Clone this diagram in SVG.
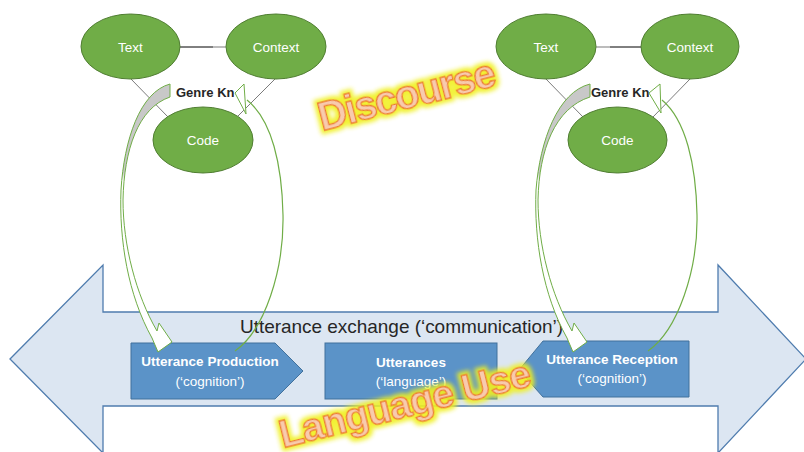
<svg xmlns="http://www.w3.org/2000/svg" width="804" height="452" viewBox="0 0 804 452">
<defs>
<style>
.ell{fill:#70ad47;stroke:#507e32;stroke-width:1}
.et{font-family:"Liberation Sans",Arial,sans-serif;font-size:13.5px;fill:#ffffff;text-anchor:middle}
.gk{font-family:"Liberation Sans",Arial,sans-serif;font-size:13px;font-weight:bold;fill:#262626}
.ln{stroke:#595959;stroke-width:0.8;fill:none}
.box{fill:#5b93c8;stroke:#41719c;stroke-width:1}
.bt{font-family:"Liberation Sans",Arial,sans-serif;font-size:13.5px;fill:#ffffff;text-anchor:middle}
.band{stroke:#70ad47;stroke-width:1;fill:url(#bandfill)}
.ret{stroke:#70ad47;stroke-width:1.2;fill:none}
.head{stroke:#70ad47;stroke-width:1;fill:#ffffff}
.wa{font-family:"Liberation Sans",Arial,sans-serif;font-weight:bold;fill:#f8cbad;stroke:#ed7d31;stroke-width:1.4;filter:url(#glow)}
</style>
<linearGradient id="bandfill" gradientUnits="userSpaceOnUse" x1="0" y1="84" x2="0" y2="352">
<stop offset="0" stop-color="#c8c8c8"/>
<stop offset="0.33" stop-color="#c8c8c8"/>
<stop offset="0.36" stop-color="#ffffff"/>
<stop offset="1" stop-color="#ffffff"/>
</linearGradient>
<filter id="glow" x="-20%" y="-60%" width="140%" height="220%">
<feMorphology in="SourceAlpha" operator="dilate" radius="3" result="d"/>
<feGaussianBlur in="d" stdDeviation="2" result="b"/>
<feFlood flood-color="#f0f020" flood-opacity="0.9"/>
<feComposite in2="b" operator="in" result="g"/>
<feMerge><feMergeNode in="g"/><feMergeNode in="SourceGraphic"/></feMerge>
</filter>
</defs>

<g id="exchange-arrow">
<path d="M10,359 L103,265 L103,312 L718,312 L718,265 L806,359 L718,453 L718,406 L103,406 L103,453 Z" fill="#dce6f2" stroke="#4f7cae" stroke-width="1.3"/>
<text x="240" y="333" font-family="Liberation Sans, Arial, sans-serif" font-size="19" fill="#262626" textLength="323">Utterance exchange (‘communication’)</text>
</g>

<g id="connectors">
<line class="ln" x1="131" y1="79" x2="168" y2="117"/>
<line class="ln" x1="275" y1="79" x2="238" y2="116"/>
<line x1="180" y1="47" x2="213" y2="47" stroke="#000" stroke-width="1"/>
<line x1="213" y1="47" x2="226" y2="47" stroke="#a6a6a6" stroke-width="1.5"/>
<line class="ln" x1="546" y1="79" x2="583" y2="117"/>
<line class="ln" x1="690" y1="79" x2="653" y2="117"/>
<line x1="596" y1="47" x2="610" y2="47" stroke="#a6a6a6" stroke-width="1.5"/>
<line x1="610" y1="47" x2="641" y2="47" stroke="#000" stroke-width="1"/>
</g>

<g id="left-text"><ellipse class="ell" cx="130.5" cy="46.5" rx="49.5" ry="32.5"/><text class="et" x="130.5" y="51.5">Text</text></g>
<g id="left-context"><ellipse class="ell" cx="276" cy="46.5" rx="50" ry="32.5"/><text class="et" x="276" y="51.5">Context</text></g>
<g id="left-code"><ellipse class="ell" cx="203" cy="140" rx="50" ry="33"/><text class="et" x="203" y="144.5">Code</text></g>
<g id="right-text"><ellipse class="ell" cx="546" cy="46.5" rx="50" ry="32.5"/><text class="et" x="546" y="51.5">Text</text></g>
<g id="right-context"><ellipse class="ell" cx="690" cy="46.5" rx="49" ry="32.5"/><text class="et" x="690" y="51.5">Context</text></g>
<g id="right-code"><ellipse class="ell" cx="617.5" cy="140" rx="49.5" ry="33"/><text class="et" x="617.5" y="144.5">Code</text></g>

<g id="genre-left"><text class="gk" x="176" y="97">Genre Kn</text></g>
<g id="genre-right"><text class="gk" x="591" y="97">Genre Kn</text></g>

<g id="utterance-production">
<path class="box" d="M131,343 L275,343 L303,371 L275,399 L131,399 Z"/>
<text class="bt" x="210" y="366" font-weight="bold">Utterance Production</text>
<text class="bt" x="210" y="386">(‘cognition’)</text>
</g>
<g id="utterances">
<rect class="box" x="325" y="343" width="172" height="56"/>
<text class="bt" x="411" y="367" font-weight="bold">Utterances</text>
<text class="bt" x="411" y="386">(‘language’)</text>
</g>
<g id="utterance-reception">
<path class="box" d="M519,370 L543,341 L689,341 L689,397 L543,397 Z"/>
<text class="bt" x="612" y="364" font-weight="bold">Utterance Reception</text>
<text class="bt" x="612" y="383">(‘cognition’)</text>
</g>

<g id="cycle-arrows">
<path class="band" d="M170,84 C140,92 124,140 121,190 C119,240 128,295 152,338 L158,352 L172,342 L159,323 L157,331 C136,295 123,245 123,200 C124,150 138,108 170,97 Z"/>
<path class="ret" d="M235,351 C265,330 284,270 283,215 C282,165 272,120 247,100"/>
<path class="head" d="M235,93 L244,84 L246,114 Z"/>
<path class="band" d="M590,84 C558,92 540,140 536,190 C534,240 543,295 567,338 L573,352 L587,342 L574,323 L572,331 C551,295 538,245 538,200 C539,150 555,108 590,97 Z"/>
<path class="ret" d="M648,351 C678,330 698,270 697,215 C696,165 686,120 662,100"/>
<path class="head" d="M649,93 L660,84 L661,113 Z"/>
</g>

<g id="discourse-label">
<text class="wa" x="322" y="131" font-size="40" textLength="182" transform="rotate(-14.5 322 131)">Discourse</text>
</g>
<g id="language-use-label">
<text class="wa" x="283" y="448" font-size="39" textLength="258" transform="rotate(-14 283 448)">Language Use</text>
</g>
</svg>
